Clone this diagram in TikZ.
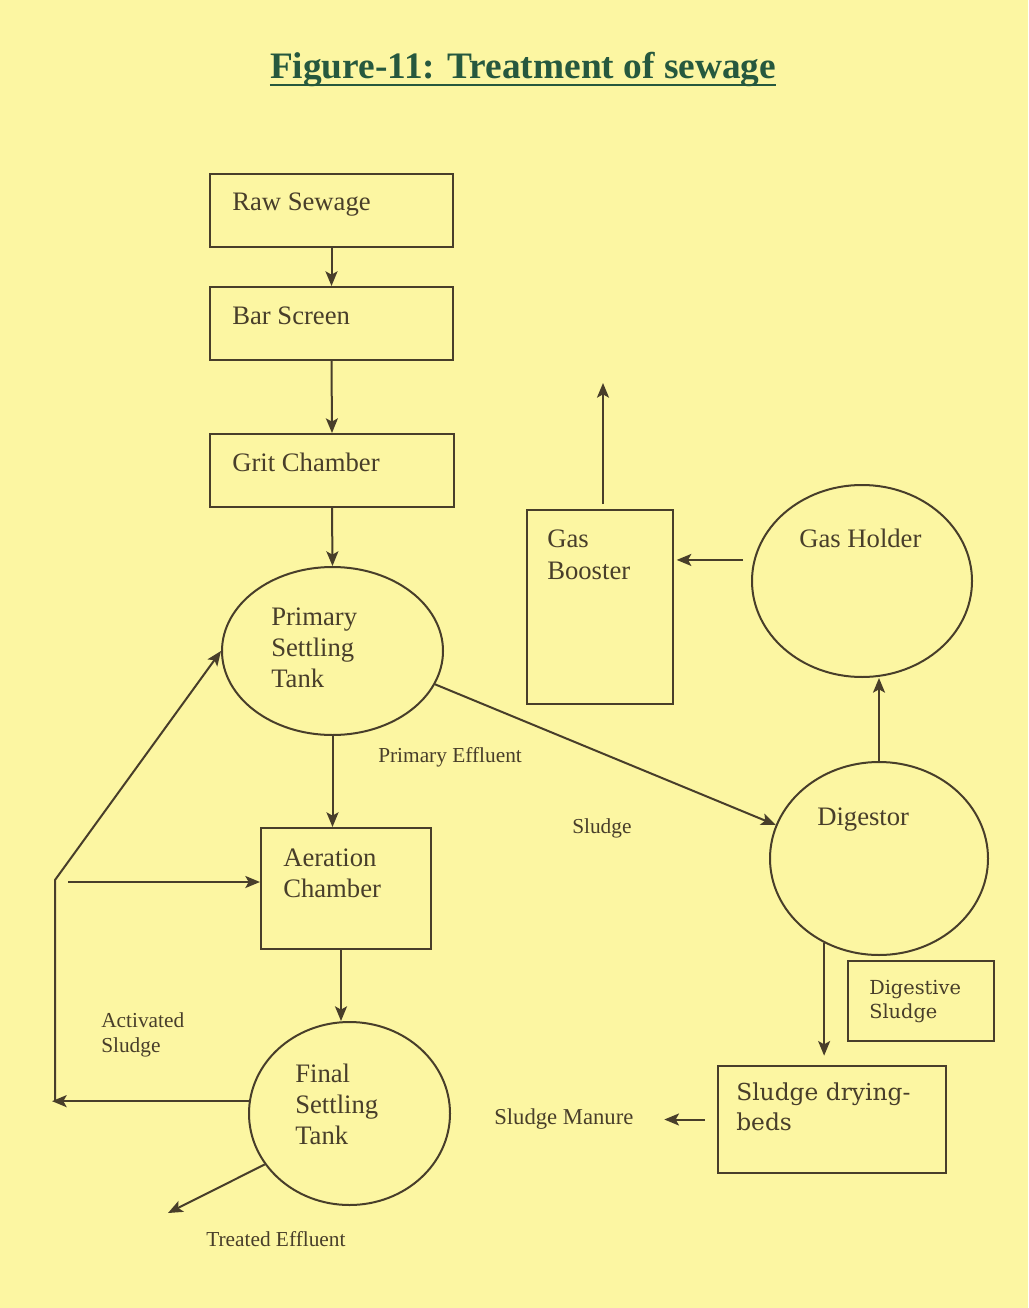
\documentclass[tikz,border=0pt]{standalone}
\usepackage{fontspec}
\setmainfont{Liberation Serif}
\newfontfamily\widefont{DejaVu Serif}
\usetikzlibrary{shapes.geometric,arrows.meta}
\definecolor{bg}{RGB}{252,246,162}
\definecolor{ink}{RGB}{72,62,42}
\definecolor{ttl}{RGB}{38,88,62}
\begin{document}
\begin{tikzpicture}[x=0.75pt,y=-0.75pt,
  box/.style={draw=ink, line width=1.5pt, rectangle, inner sep=0pt},
  ell/.style={draw=ink, line width=1.5pt, ellipse, inner sep=0pt},
  arr/.style={draw=ink, line width=1.5pt, -{Stealth[length=11pt,width=9pt,inset=2.5pt]}},
  ln/.style={draw=ink, line width=1.5pt},
  txt/.style={text=ink, font=\fontsize{20}{23.25}\selectfont, inner sep=0pt, align=left, anchor=base west},
  lbl/.style={text=ink, font=\fontsize{16}{19}\selectfont, inner sep=0pt, align=left, anchor=base west},
]
\path[fill=bg] (0,0) rectangle (1028,1308);

% title
\node[text=ttl, font=\fontsize{28}{32}\selectfont\bfseries, inner sep=0pt, anchor=base] (title) at (523,79) {Figure-11: Treatment of sewage};
\draw[ttl, line width=2.2pt] ([yshift=-4.5pt]title.base west) -- ([yshift=-4.5pt]title.base east);

% boxes and tanks
\node[box, minimum width=182.25pt, minimum height=54.75pt] (raw) at (331.5,210.5) {};
\node[box, minimum width=182.25pt, minimum height=54.75pt] (bar) at (331.5,323.5) {};
\node[box, minimum width=183pt, minimum height=54.75pt] (grit) at (332,470.5) {};
\node[ell, minimum width=165.75pt, minimum height=126pt] (prim) at (332.5,651) {};
\node[box, minimum width=127.5pt, minimum height=90.75pt] (aer) at (346,888.5) {};
\node[ell, minimum width=150.75pt, minimum height=137.25pt] (fin) at (349.5,1113.5) {};
\node[box, minimum width=109.5pt, minimum height=145.5pt] (boost) at (600,607) {};
\node[ell, minimum width=165pt, minimum height=144pt] (hold) at (862,581) {};
\node[ell, minimum width=163.5pt, minimum height=144.75pt] (dig) at (879,858.5) {};
\node[box, minimum width=109.5pt, minimum height=60pt] (dsl) at (921,1001) {};
\node[box, minimum width=171pt, minimum height=80.25pt] (beds) at (832,1119.5) {};

% texts inside (anchor = baseline of the last line)
\node[txt] (rawT) at (232,211) {Raw Sewage};
\node[txt] (barT) at (232,325) {Bar Screen};
\node[txt] (gritT) at (232,471) {Grit Chamber};
\node[txt] (primT) at (271,687) {Primary\\Settling\\Tank};
\node[txt] (aerT) at (283,897) {Aeration\\Chamber};
\node[txt] (finT) at (295,1144) {Final\\Settling\\Tank};
\node[txt, font=\fontsize{20}{24}\selectfont] (boostT) at (547,579) {Gas\\Booster};
\node[txt] (holdT) at (799,547) {Gas Holder};
\node[txt] (digT) at (817,825) {Digestor};
\node[txt, font=\widefont\fontsize{14.5}{18}\selectfont] (dslT) at (869,1018) {Digestive\\Sludge};
\node[txt, font=\widefont\fontsize{17.5}{22.5}\selectfont] (bedsT) at (736,1130) {Sludge drying-\\beds};

% labels
\node[lbl] (peL) at (378,762) {Primary Effluent};
\node[lbl] (slL) at (572,833) {Sludge};
\node[lbl, font=\fontsize{16}{18.75}\selectfont] (asL) at (101,1052) {Activated\\Sludge};
\node[lbl] (teL) at (206,1246) {Treated Effluent};
\node[lbl, font=\fontsize{17}{20}\selectfont] (manure) at (494,1124) {Sludge Manure};

% free ends
\coordinate (ret) at (52,1101);
\coordinate (corner) at (55,880);
\coordinate (hs) at (68,882);
\coordinate (te) at (168,1213);
\coordinate (gasout) at (603,383);

% connectors
\draw[arr] (raw.south) -- (bar.north);
\draw[arr] (bar.south) -- (grit.north);
\draw[arr] (grit.south) -- (prim.north);
\draw[arr] (prim.south) -- (prim.south |- aer.north);
\draw[arr] ([xshift=-3.75pt]aer.south) -- ([xshift=-3.75pt]aer.south |- fin.north);
\draw[arr] (fin.173) -- (fin.173 -| ret);
\draw[arr] (ret -| corner) -- (corner) -- (prim.west);
\draw[arr] (hs) -- (hs -| aer.west);
\draw[arr] (fin.211) -- (te);
\draw[arr] (prim.-18) -- (dig.162);
\draw[arr] (dig.north) -- (dig.north |- hold.south);
\draw[arr, shorten <=8pt, shorten >=2pt] (hold.169) -- (boost.east |- hold.169);
\draw[arr] ([xshift=2.25pt,yshift=3.75pt]boost.north) -- (gasout);
\draw[arr, shorten >=7pt] (dig.237.8) -- (dig.237.8 |- beds.north);
\draw[arr, shorten <=9pt, shorten >=23pt] (beds.west) -- (beds.west -| manure.east);
\end{tikzpicture}
\end{document}
